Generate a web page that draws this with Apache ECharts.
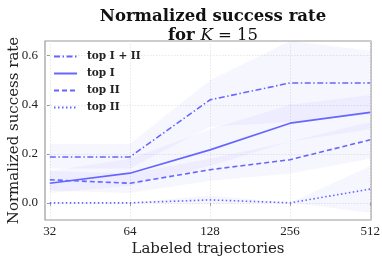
<!DOCTYPE html>
<html><head><meta charset="utf-8">
<script src="https://cdn.jsdelivr.net/npm/echarts@6/dist/echarts.min.js"></script>
<style>html,body{margin:0;padding:0;background:#fff}#c{width:382px;height:261px}</style>
</head><body><div id="c"></div>
<script>
const xLabels = ['32', '64', '128', '256', '512'];
const xIdx = [0, 1, 2, 3, 4];
const yTicks = [0, 0.2, 0.4, 0.6];
const seriesNames = ['top I + II', 'top I', 'top II', 'top II '];
const meanTop12 = [0.187, 0.187, 0.42, 0.489, 0.489];
const meanTop1 = [0.080, 0.121, 0.216, 0.325, 0.369];
const meanTop2 = [0.094, 0.080, 0.135, 0.176, 0.257];
const meanTop2b = [0.0, 0.0, 0.012, 0.0, 0.056];
const lowTop12 = [0.14, 0.14, 0.31, 0.33, 0.36];
const highTop12 = [0.24, 0.24, 0.50, 0.66, 0.62];
const lowTop1 = [0.04, 0.07, 0.15, 0.25, 0.30];
const highTop1 = [0.13, 0.18, 0.30, 0.40, 0.44];
const lowTop2 = [0.05, 0.04, 0.09, 0.12, 0.18];
const highTop2 = [0.13, 0.12, 0.18, 0.25, 0.33];
const lowTop2b = [0.0, 0.0, -0.005, 0.0, -0.04];
const highTop2b = [0.0, 0.0, 0.03, 0.0, 0.15];

const COLOR = '#6666ff';
const means = [meanTop12, meanTop1, meanTop2, meanTop2b];
const lows = [lowTop12, lowTop1, lowTop2, lowTop2b];
const highs = [highTop12, highTop1, highTop2, highTop2b];
const dashes = [[6, 2.5, 1.5, 2.5], 'solid', [5, 3], [1.5, 2.5]];

const series = [];
for (let k = 0; k < 4; k++) {
  const lo = lows[k], hi = highs[k];
  series.push({
    name: 'band' + k, type: 'custom', silent: true, z: 1,
    data: [0],
    renderItem: function (params, api) {
      const pts = [];
      for (let i = 0; i < xIdx.length; i++) pts.push(api.coord([xIdx[i], hi[i]]));
      for (let i = xIdx.length - 1; i >= 0; i--) pts.push(api.coord([xIdx[i], lo[i]]));
      return { type: 'polygon', shape: { points: pts }, style: { fill: 'rgba(110,110,255,0.06)', stroke: null } };
    }
  });
}
for (let k = 0; k < 4; k++) {
  series.push({
    name: seriesNames[k], type: 'line', symbol: 'none',
    data: xIdx.map((x, i) => [x, means[k][i]]),
    lineStyle: { color: COLOR, width: 1.6, type: dashes[k] },
    itemStyle: { color: COLOR }, z: 3
  });
}

const chart = echarts.init(document.getElementById('c'), null, { renderer: 'canvas' });
chart.setOption({
  animation: false,
  backgroundColor: '#fff',
  title: {
    left: 208, top: 2, textAlign: 'center',
    text: '{b|Normalized success rate}\n{b|for }{k|K}{r| = 15}',
    textStyle: {
      rich: {
        b: { fontFamily: 'DejaVu Serif', fontWeight: 'bold', fontSize: 16.5, color: '#111', lineHeight: 19 },
        k: { fontFamily: 'DejaVu Serif', fontStyle: 'italic', fontWeight: 'normal', fontSize: 16.5, color: '#111', lineHeight: 19 },
        r: { fontFamily: 'DejaVu Serif', fontWeight: 'normal', fontSize: 16.5, color: '#111', lineHeight: 19 }
      }
    }
  },
  legend: {
    data: seriesNames, orient: 'vertical', left: 48, top: 46,
    itemWidth: 23, itemHeight: 11, itemGap: 6,
    itemStyle: { opacity: 0 },
    textStyle: { fontFamily: 'DejaVu Serif', fontWeight: 'bold', fontSize: 10.5, color: '#222', lineHeight: 11, padding: [0, 0, 0, 5] }
  },
  grid: { left: 45, right: 11, top: 41, bottom: 41, show: true, borderColor: '#999', borderWidth: 1.2, outerBoundsMode: 'none', containLabel: false },
  xAxis: {
    type: 'value', min: -0.06, max: 4.01,
    name: 'Labeled trajectories', nameLocation: 'middle', nameGap: 22, nameMoveOverlap: false,
    nameTextStyle: { fontFamily: 'DejaVu Serif', fontSize: 15, color: '#222' },
    axisLine: { show: false },
    axisTick: { show: true, length: 3, lineStyle: { color: '#999' }, customValues: xIdx },
    axisLabel: { customValues: xIdx, margin: 5, fontFamily: 'Liberation Serif', fontSize: 13, color: '#222',
      formatter: v => xLabels[Math.round(v)] },
    splitLine: { show: true, lineStyle: { color: '#e2e2e2', type: [1.5, 1.5], width: 0.8 } }
  },
  yAxis: {
    type: 'value', min: -0.07, max: 0.66,
    name: 'Normalized success rate', nameLocation: 'middle', nameGap: 23, nameMoveOverlap: false,
    nameTextStyle: { fontFamily: 'DejaVu Serif', fontSize: 15, color: '#222' },
    axisLine: { show: false },
    axisTick: { show: true, length: 3, lineStyle: { color: '#999' }, customValues: yTicks },
    axisLabel: { customValues: yTicks, margin: 7, fontFamily: 'Liberation Serif', fontSize: 13, color: '#222',
      formatter: v => v.toFixed(1) },
    splitLine: { show: true, lineStyle: { color: '#e2e2e2', type: [1.5, 1.5], width: 0.8 } }
  },
  series: series
});
</script></body></html>
